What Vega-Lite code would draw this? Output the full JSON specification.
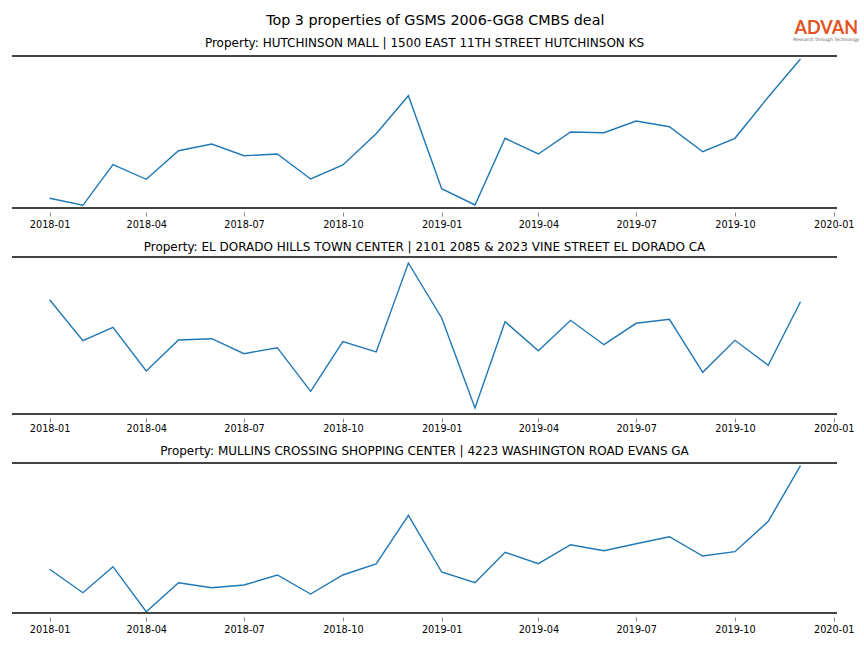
{
  "$schema": "https://vega.github.io/schema/vega-lite/v6.json",
  "padding": {"top": 13, "left": 11, "right": 5, "bottom": 5},
  "background": "white",
  "title": {"text": "Top 3 properties of GSMS 2006-GG8 CMBS deal", "font": "DejaVu Sans", "fontSize": 14.3, "fontWeight": "normal", "color": "#000", "anchor": "middle", "offset": -8},
  "config": {
    "view": {"stroke": null},
    "title": {"font": "DejaVu Sans", "fontSize": 12, "fontWeight": "normal", "color": "#000", "offset": 2.5}
  },
  "spacing": 11,
  "datasets": {
    "p1": [
      {"month": "2018-01-01", "value": 9.7}, {"month": "2018-02-01", "value": 2.7}, {"month": "2018-03-01", "value": 43.3},
      {"month": "2018-04-01", "value": 28.7}, {"month": "2018-05-01", "value": 57.3}, {"month": "2018-06-01", "value": 64},
      {"month": "2018-07-01", "value": 52.3}, {"month": "2018-08-01", "value": 54}, {"month": "2018-09-01", "value": 29},
      {"month": "2018-10-01", "value": 43}, {"month": "2018-11-01", "value": 74.3}, {"month": "2018-12-01", "value": 112.3},
      {"month": "2019-01-01", "value": 19.3}, {"month": "2019-02-01", "value": 3}, {"month": "2019-03-01", "value": 69.7},
      {"month": "2019-04-01", "value": 54}, {"month": "2019-05-01", "value": 76}, {"month": "2019-06-01", "value": 75.3},
      {"month": "2019-07-01", "value": 87}, {"month": "2019-08-01", "value": 81.3}, {"month": "2019-09-01", "value": 56.3},
      {"month": "2019-10-01", "value": 69.7}, {"month": "2019-11-01", "value": 111}, {"month": "2019-12-01", "value": 149}
    ],
    "p2": [
      {"month": "2018-01-01", "value": 114.3}, {"month": "2018-02-01", "value": 73.3}, {"month": "2018-03-01", "value": 86.7},
      {"month": "2018-04-01", "value": 43}, {"month": "2018-05-01", "value": 74}, {"month": "2018-06-01", "value": 75.3},
      {"month": "2018-07-01", "value": 60.3}, {"month": "2018-08-01", "value": 66.3}, {"month": "2018-09-01", "value": 22.7},
      {"month": "2018-10-01", "value": 72.3}, {"month": "2018-11-01", "value": 62}, {"month": "2018-12-01", "value": 151},
      {"month": "2019-01-01", "value": 96}, {"month": "2019-02-01", "value": 6}, {"month": "2019-03-01", "value": 92.3},
      {"month": "2019-04-01", "value": 63.3}, {"month": "2019-05-01", "value": 93.7}, {"month": "2019-06-01", "value": 69.3},
      {"month": "2019-07-01", "value": 90.7}, {"month": "2019-08-01", "value": 94.7}, {"month": "2019-09-01", "value": 41.7},
      {"month": "2019-10-01", "value": 73.7}, {"month": "2019-11-01", "value": 48.7}, {"month": "2019-12-01", "value": 112.3}
    ],
    "p3": [
      {"month": "2018-01-01", "value": 43.7}, {"month": "2018-02-01", "value": 20.3}, {"month": "2018-03-01", "value": 46.3},
      {"month": "2018-04-01", "value": 1.3}, {"month": "2018-05-01", "value": 30.3}, {"month": "2018-06-01", "value": 25.3},
      {"month": "2018-07-01", "value": 28}, {"month": "2018-08-01", "value": 38}, {"month": "2018-09-01", "value": 19},
      {"month": "2018-10-01", "value": 38}, {"month": "2018-11-01", "value": 49}, {"month": "2018-12-01", "value": 97.7},
      {"month": "2019-01-01", "value": 41}, {"month": "2019-02-01", "value": 30.3}, {"month": "2019-03-01", "value": 60.7},
      {"month": "2019-04-01", "value": 49.3}, {"month": "2019-05-01", "value": 68.3}, {"month": "2019-06-01", "value": 62.3},
      {"month": "2019-07-01", "value": 69.3}, {"month": "2019-08-01", "value": 76.3}, {"month": "2019-09-01", "value": 57},
      {"month": "2019-10-01", "value": 61.3}, {"month": "2019-11-01", "value": 91.7}, {"month": "2019-12-01", "value": 147.3}
    ],
    "logo": [{"brand": "ADVAN", "tagline": "Research through Technology", "at": "2019-12-25"}]
  },
  "vconcat": [
    {
      "title": {"text": "Property: HUTCHINSON MALL | 1500 EAST 11TH STREET HUTCHINSON KS", "offset": -30},
      "width": 825, "height": 152,
      "layer": [
        {
          "data": {"name": "p1"},
          "mark": {"type": "line", "color": "#1f77b4", "strokeWidth": 1.4},
          "encoding": {
            "x": {"field": "month", "type": "temporal",
              "scale": {"type": "utc", "domain": [{"year": 2017, "month": 11, "date": 27, "utc": true}, {"year": 2020, "month": 1, "date": 4, "utc": true}], "nice": false},
              "axis": {"values": [
                {"year": 2018, "month": 1, "date": 1, "utc": true}, {"year": 2018, "month": 4, "date": 1, "utc": true},
                {"year": 2018, "month": 7, "date": 1, "utc": true}, {"year": 2018, "month": 10, "date": 1, "utc": true},
                {"year": 2019, "month": 1, "date": 1, "utc": true}, {"year": 2019, "month": 4, "date": 1, "utc": true},
                {"year": 2019, "month": 7, "date": 1, "utc": true}, {"year": 2019, "month": 10, "date": 1, "utc": true},
                {"year": 2020, "month": 1, "date": 1, "utc": true}],
                "format": "%Y-%m", "title": null, "domain": false, "grid": false, "tickSize": 4, "tickColor": "#666", "tickWidth": 0.8,
                "offset": 4, "labelFont": "DejaVu Sans", "labelFontSize": 9.7, "labelColor": "#000", "labelPadding": 3, "labelFlush": false, "labelOverlap": false}},
            "y": {"field": "value", "type": "quantitative", "scale": {"domain": [0, 152], "nice": false, "zero": false}, "axis": null}
          }
        },
        {"data": {"values": [{}]}, "mark": {"type": "rule", "color": "#444", "strokeWidth": 1.8}, "encoding": {"y": {"datum": 0}}},
        {"data": {"values": [{}]}, "mark": {"type": "rule", "color": "#444", "strokeWidth": 1.8}, "encoding": {"y": {"datum": 152}}},
        {"data": {"name": "logo"}, "mark": {"type": "text", "font": "Lato", "fontSize": 18, "fontWeight": "bold", "color": "#e2531f", "align": "center", "baseline": "alphabetic"},
          "encoding": {"x": {"field": "at", "type": "temporal"}, "y": {"datum": 174}, "text": {"field": "brand"}}},
        {"data": {"name": "logo"}, "mark": {"type": "text", "font": "DejaVu Sans", "fontSize": 4.5, "color": "#666", "align": "center", "baseline": "alphabetic"},
          "encoding": {"x": {"field": "at", "type": "temporal"}, "y": {"datum": 167}, "text": {"field": "tagline"}}}
      ]
    },
    {
      "title": {"text": "Property: EL DORADO HILLS TOWN CENTER | 2101 2085 & 2023 VINE STREET EL DORADO CA"},
      "width": 825, "height": 157,
      "layer": [
        {
          "data": {"name": "p2"},
          "mark": {"type": "line", "color": "#1f77b4", "strokeWidth": 1.4},
          "encoding": {
            "x": {"field": "month", "type": "temporal",
              "scale": {"type": "utc", "domain": [{"year": 2017, "month": 11, "date": 27, "utc": true}, {"year": 2020, "month": 1, "date": 4, "utc": true}], "nice": false},
              "axis": {"values": [
                {"year": 2018, "month": 1, "date": 1, "utc": true}, {"year": 2018, "month": 4, "date": 1, "utc": true},
                {"year": 2018, "month": 7, "date": 1, "utc": true}, {"year": 2018, "month": 10, "date": 1, "utc": true},
                {"year": 2019, "month": 1, "date": 1, "utc": true}, {"year": 2019, "month": 4, "date": 1, "utc": true},
                {"year": 2019, "month": 7, "date": 1, "utc": true}, {"year": 2019, "month": 10, "date": 1, "utc": true},
                {"year": 2020, "month": 1, "date": 1, "utc": true}],
                "format": "%Y-%m", "title": null, "domain": false, "grid": false, "tickSize": 4, "tickColor": "#666", "tickWidth": 0.8,
                "offset": 4, "labelFont": "DejaVu Sans", "labelFontSize": 9.7, "labelColor": "#000", "labelPadding": 1, "labelFlush": false, "labelOverlap": false}},
            "y": {"field": "value", "type": "quantitative", "scale": {"domain": [0, 157], "nice": false, "zero": false}, "axis": null}
          }
        },
        {"data": {"values": [{}]}, "mark": {"type": "rule", "color": "#444", "strokeWidth": 1.8}, "encoding": {"y": {"datum": 0}}},
        {"data": {"values": [{}]}, "mark": {"type": "rule", "color": "#444", "strokeWidth": 1.8}, "encoding": {"y": {"datum": 157}}}
      ]
    },
    {
      "title": {"text": "Property: MULLINS CROSSING SHOPPING CENTER | 4223 WASHINGTON ROAD EVANS GA", "offset": 4.5},
      "width": 825, "height": 150,
      "layer": [
        {
          "data": {"name": "p3"},
          "mark": {"type": "line", "color": "#1f77b4", "strokeWidth": 1.4},
          "encoding": {
            "x": {"field": "month", "type": "temporal",
              "scale": {"type": "utc", "domain": [{"year": 2017, "month": 11, "date": 27, "utc": true}, {"year": 2020, "month": 1, "date": 4, "utc": true}], "nice": false},
              "axis": {"values": [
                {"year": 2018, "month": 1, "date": 1, "utc": true}, {"year": 2018, "month": 4, "date": 1, "utc": true},
                {"year": 2018, "month": 7, "date": 1, "utc": true}, {"year": 2018, "month": 10, "date": 1, "utc": true},
                {"year": 2019, "month": 1, "date": 1, "utc": true}, {"year": 2019, "month": 4, "date": 1, "utc": true},
                {"year": 2019, "month": 7, "date": 1, "utc": true}, {"year": 2019, "month": 10, "date": 1, "utc": true},
                {"year": 2020, "month": 1, "date": 1, "utc": true}],
                "format": "%Y-%m", "title": null, "domain": false, "grid": false, "tickSize": 4, "tickColor": "#666", "tickWidth": 0.8,
                "offset": 4, "labelFont": "DejaVu Sans", "labelFontSize": 9.7, "labelColor": "#000", "labelPadding": 3, "labelFlush": false, "labelOverlap": false}},
            "y": {"field": "value", "type": "quantitative", "scale": {"domain": [0, 150], "nice": false, "zero": false}, "axis": null}
          }
        },
        {"data": {"values": [{}]}, "mark": {"type": "rule", "color": "#444", "strokeWidth": 1.8}, "encoding": {"y": {"datum": 0}}},
        {"data": {"values": [{}]}, "mark": {"type": "rule", "color": "#444", "strokeWidth": 1.8}, "encoding": {"y": {"datum": 150}}}
      ]
    }
  ]
}
